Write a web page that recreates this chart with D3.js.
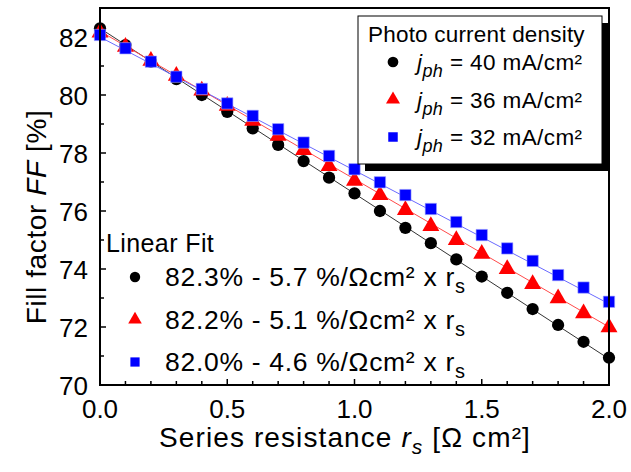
<!DOCTYPE html>
<html>
<head>
<meta charset="utf-8">
<script src="https://cdn.jsdelivr.net/npm/d3@7"></script>
<style>
  html, body { margin: 0; padding: 0; background: #fff; }
  svg { display: block; font-family: "Liberation Sans", Arial, sans-serif; }
</style>
</head>
<body>
<svg id="chart" width="631" height="472"></svg>
<script>
/* Fill factor vs series resistance, three photo current densities + linear fits */
(function () {
  "use strict";
  var rs = [0.0, 0.1, 0.2, 0.3, 0.4, 0.5, 0.6, 0.7, 0.8, 0.9, 1.0,
            1.1, 1.2, 1.3, 1.4, 1.5, 1.6, 1.7, 1.8, 1.9, 2.0];
  var ff40 = [82.30, 81.72, 81.15, 80.55, 80.00, 79.42, 78.85, 78.28, 77.72, 77.15, 76.61,
              76.00, 75.42, 74.89, 74.33, 73.74, 73.18, 72.62, 72.07, 71.49, 70.94];
  var ff36 = [82.15, 81.66, 81.18, 80.66, 80.15, 79.63, 79.11, 78.59, 78.10, 77.55, 77.04,
              76.55, 76.03, 75.48, 75.00, 74.52, 74.00, 73.48, 72.99, 72.47, 71.99];
  var ff32 = [82.07, 81.61, 81.15, 80.63, 80.21, 79.71, 79.28, 78.82, 78.36, 77.90, 77.44,
              76.99, 76.55, 76.07, 75.62, 75.17, 74.71, 74.28, 73.79, 73.36, 72.87];
  var jph = ["40", "36", "32"];
  var fitA = ["82.3", "82.2", "82.0"];
  var fitB = ["5.7", "5.1", "4.6"];
  var xTicks = [0.0, 0.5, 1.0, 1.5, 2.0];
  var yTicks = [70, 72, 74, 76, 78, 80, 82];

  var series = [
    { v: ff40, a: +fitA[0], b: +fitB[0], shape: d3.symbolCircle, fill: "#000", line: "#333" },
    { v: ff36, a: +fitA[1], b: +fitB[1], shape: d3.symbolTriangle, fill: "#ff0000", line: "#ff4a4a" },
    { v: ff32, a: +fitA[2], b: +fitB[2], shape: d3.symbolSquare, fill: "#0000ff", line: "#6a6aff" }
  ];

  var L = 100, R = 609, T = 8, B = 385;
  var svg = d3.select("#chart");
  var x = d3.scaleLinear().domain([0, 2]).range([L, R]);
  var y = d3.scaleLinear().domain([70, 83]).range([B, T]);

  // ticks (inward)
  var g = svg.append("g");
  d3.range(0, 2.0001, 0.1).forEach(function (t, i) {
    var len = i % 5 === 0 ? 6 : 4;
    g.append("line").attr("x1", x(t)).attr("x2", x(t)).attr("y1", B).attr("y2", B - len)
      .attr("stroke", "#000").attr("stroke-width", 1.5);
  });
  d3.range(70, 83.001, 1).forEach(function (t) {
    var len = t % 2 === 0 ? 6 : 4;
    g.append("line").attr("x1", L).attr("x2", L + len).attr("y1", y(t)).attr("y2", y(t))
      .attr("stroke", "#000").attr("stroke-width", 1.5);
  });

  // tick labels
  svg.append("g").selectAll("text").data(xTicks).enter().append("text")
    .attr("x", function (d) { return x(d); }).attr("y", 418)
    .attr("text-anchor", "middle").attr("font-size", 26)
    .text(function (d) { return d.toFixed(1); });
  svg.append("g").selectAll("text").data(yTicks).enter().append("text")
    .attr("x", 88).attr("y", function (d) { return y(d) + 9.5; })
    .attr("text-anchor", "end").attr("font-size", 26)
    .text(function (d) { return d; });

  // fit lines
  series.forEach(function (s) {
    svg.append("line").attr("x1", x(0)).attr("y1", y(s.a)).attr("x2", x(2)).attr("y2", y(s.a - 2 * s.b))
      .attr("stroke", s.line).attr("stroke-width", 1);
  });

  // markers
  series.forEach(function (s, k) {
    var size = k === 0 ? 118 : (k === 1 ? 125 : 128);
    svg.append("g").selectAll("path").data(s.v).enter().append("path")
      .attr("transform", function (d, i) { return "translate(" + x(rs[i]) + "," + y(d) + ")"; })
      .attr("d", d3.symbol().type(s.shape).size(size))
      .attr("fill", s.fill)
      .attr("stroke", k === 2 ? "#9aa0ff" : "none").attr("stroke-width", 0.6);
  });

  // frame
  svg.append("rect").attr("x", L).attr("y", T).attr("width", R - L).attr("height", B - T)
    .attr("fill", "none").attr("stroke", "#000").attr("stroke-width", 2);

  // axis titles
  var xt = svg.append("text").attr("x", 345).attr("y", 447).attr("text-anchor", "middle")
    .attr("font-size", 28).attr("letter-spacing", 1.1);
  xt.append("tspan").text("Series resistance ");
  xt.append("tspan").attr("font-style", "italic").text("r");
  xt.append("tspan").attr("font-style", "italic").attr("font-size", 21).attr("dy", 7).text("s");
  xt.append("tspan").attr("dy", -7).text(" [Ω cm²]");

  var yt = svg.append("text").attr("transform", "translate(46,217) rotate(-90)")
    .attr("text-anchor", "middle").attr("font-size", 28).attr("letter-spacing", 0.6);
  yt.append("tspan").text("Fill factor ");
  yt.append("tspan").attr("font-style", "italic").text("FF");
  yt.append("tspan").text(" [%]");

  // top-right legend with drop shadow
  var lx = 358, ly = 16, lw = 244, lh = 148;
  svg.append("rect").attr("x", lx + 7).attr("y", ly + 7).attr("width", lw).attr("height", lh).attr("fill", "#000");
  svg.append("rect").attr("x", lx).attr("y", ly).attr("width", lw).attr("height", lh)
    .attr("fill", "#fff").attr("stroke", "#000").attr("stroke-width", 1);
  svg.append("text").attr("x", 368).attr("y", 42).attr("font-size", 22.5).attr("letter-spacing", 0.2)
    .text("Photo current density");
  series.forEach(function (s, k) {
    var cy = 62 + k * 37.5;
    svg.append("path").attr("transform", "translate(393," + cy + ")")
      .attr("d", d3.symbol().type(s.shape).size(k === 1 ? 85 : 90)).attr("fill", s.fill);
    var t = svg.append("text").attr("x", 417).attr("y", cy + 8).attr("font-size", 22.5).attr("letter-spacing", 0.4);
    t.append("tspan").attr("font-style", "italic").text("j");
    t.append("tspan").attr("font-style", "italic").attr("font-size", 18).attr("dy", 7).text("ph");
    t.append("tspan").attr("dy", -7).text(" = " + jph[k] + " mA/cm²");
  });

  // bottom-left fit legend
  svg.append("text").attr("x", 106).attr("y", 252).attr("font-size", 25).attr("letter-spacing", 0.4).text("Linear Fit");
  series.forEach(function (s, k) {
    var cy = 277 + k * 42.5;
    svg.append("path").attr("transform", "translate(135," + cy + ")")
      .attr("d", d3.symbol().type(s.shape).size(k === 1 ? 80 : 85)).attr("fill", s.fill);
    var t = svg.append("text").attr("x", 165).attr("y", cy + 9).attr("font-size", 26.5).attr("letter-spacing", 0.7);
    t.append("tspan").text(fitA[k] + "% - " + fitB[k] + " %/Ωcm² x r");
    t.append("tspan").attr("font-size", 20).attr("dy", 7).text("s");
  });
})();
</script>
</body>
</html>
